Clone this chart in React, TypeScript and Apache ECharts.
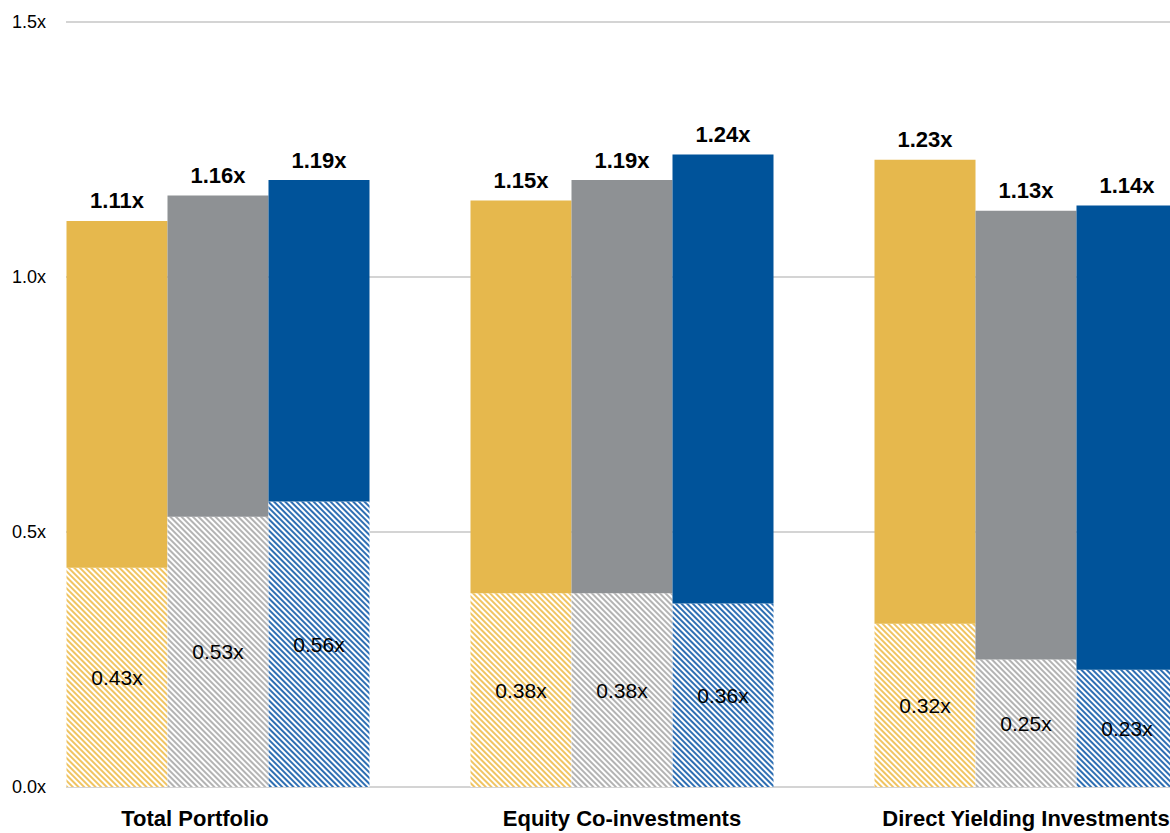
import React, { useEffect, useRef } from "react";
import * as echarts from "echarts";

const categories = ["Total Portfolio", "Equity Co-investments", "Direct Yielding Investments"];
const yellowTotal = [1.11, 1.15, 1.23];
const yellowBase = [0.43, 0.38, 0.32];
const grayTotal = [1.16, 1.19, 1.13];
const grayBase = [0.53, 0.38, 0.25];
const blueTotal = [1.19, 1.24, 1.14];
const blueBase = [0.56, 0.36, 0.23];
const yTicks = [0, 0.5, 1.0, 1.5];

const FONT = "'Liberation Sans', Arial, sans-serif";

const sub = (a: number[], b: number[]) => a.map((v, i) => Math.round((v - b[i]) * 100) / 100);

export default function App() {
  const ref = useRef<HTMLDivElement>(null);
  useEffect(() => {
    document.body.style.margin = "0";
    const chart = echarts.init(ref.current!, null, { renderer: "svg" });
    const groups = [
      { key: "y", total: yellowTotal, base: yellowBase, solid: "#E6B84D", hatch: "#F0C462" },
      { key: "g", total: grayTotal, base: grayBase, solid: "#8E9194", hatch: "#B3B3B3" },
      { key: "b", total: blueTotal, base: blueBase, solid: "#00539A", hatch: "#2F6FB3" },
    ];
    const series: any[] = [];
    groups.forEach((g) => {
      series.push({
        type: "bar",
        stack: g.key,
        xAxisIndex: 0,
        yAxisIndex: 0,
        data: g.base,
        barGap: "0%",
        barCategoryGap: "25%",
        itemStyle: {
          color: "#ffffff",
          decal: {
            symbol: "rect",
            symbolSize: 1,
            color: g.hatch,
            dashArrayX: [1, 0],
            dashArrayY: [2, 2],
            rotation: Math.PI / 4,
          },
        },
        label: {
          show: true,
          position: "inside",
          color: "#000",
          fontFamily: FONT,
          fontSize: 21,
          formatter: (p: any) => p.value.toFixed(2) + "x",
        },
      });
      series.push({
        type: "bar",
        stack: g.key,
        xAxisIndex: 0,
        yAxisIndex: 0,
        data: sub(g.total, g.base),
        barGap: "0%",
        barCategoryGap: "25%",
        itemStyle: { color: g.solid },
        label: {
          show: true,
          position: "top",
          distance: 9,
          color: "#000",
          fontFamily: FONT,
          fontWeight: "bold",
          fontSize: 22,
          formatter: (p: any) => g.total[p.dataIndex].toFixed(2) + "x",
        },
      });
    });
    series.push({ type: "line", xAxisIndex: 1, yAxisIndex: 1, data: [], silent: true });

    chart.setOption({
      animation: false,
      grid: [
        { left: 16, right: 0, top: 22, bottom: 46, containLabel: false },
        { left: 66, right: 58, top: 22, bottom: 46, containLabel: false },
      ],
      xAxis: [
        {
          type: "category",
          gridIndex: 0,
          data: categories,
          axisLine: { show: false },
          axisTick: { show: false },
          axisLabel: {
            color: "#000",
            fontFamily: FONT,
            fontWeight: "bold",
            fontSize: 22,
            margin: 20,
            interval: 0,
            formatter: (v: string, i: number) => (i === 0 ? "{a|" + v + "}" : v),
            rich: {
              a: {
                color: "#000",
                fontFamily: FONT,
                fontWeight: "bold",
                fontSize: 22,
                padding: [0, 46, 0, 0],
              },
            },
          },
        },
        {
          type: "value",
          gridIndex: 1,
          show: false,
        },
      ],
      yAxis: [
        {
          type: "value",
          gridIndex: 0,
          min: 0,
          max: 1.5,
          interval: 0.5,
          show: false,
          splitLine: { show: false },
        },
        {
          type: "value",
          gridIndex: 1,
          min: yTicks[0],
          max: yTicks[yTicks.length - 1],
          interval: 0.5,
          axisLine: { show: false },
          axisTick: { show: false },
          axisLabel: {
            color: "#000",
            fontFamily: FONT,
            fontSize: 18,
            margin: 20,
            formatter: (v: number) => v.toFixed(1) + "x",
          },
          splitLine: { lineStyle: { color: "#C6C6C6", width: 1.5 } },
          z: 0,
        },
      ],
      series,
    });
    return () => chart.dispose();
  }, []);
  return (
    <div style={{ width: 1170, height: 833, overflow: "hidden", position: "relative" }}>
      <div ref={ref} style={{ width: 1228, height: 833 }} />
    </div>
  );
}
